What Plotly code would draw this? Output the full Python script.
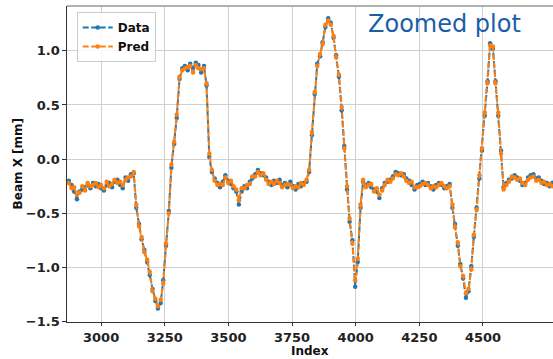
import plotly.graph_objects as go

x_start = 2873
x_step = 10.61

data_vals = [
    -0.20, -0.24, -0.30, -0.37, -0.30, -0.28, -0.26, -0.24, -0.27, -0.22,
    -0.25, -0.23, -0.27, -0.29, -0.24, -0.22, -0.26, -0.21, -0.19, -0.24,
    -0.27, -0.17, -0.20, -0.14, -0.13, -0.45, -0.60, -0.74, -0.84, -0.95,
    -1.07, -1.20, -1.31, -1.38, -1.33, -1.12, -0.80, -0.48, -0.08, 0.14,
    0.38, 0.74, 0.84, 0.86, 0.82, 0.88, 0.84, 0.89, 0.87, 0.80,
    0.86, 0.68, 0.02, -0.12, -0.18, -0.22, -0.26, -0.21, -0.15, -0.20,
    -0.23, -0.27, -0.30, -0.42, -0.30, -0.25, -0.27, -0.21, -0.18, -0.14,
    -0.10, -0.13, -0.15, -0.17, -0.21, -0.24, -0.20, -0.22, -0.19, -0.24,
    -0.22, -0.26, -0.21, -0.25, -0.28, -0.23, -0.25, -0.22, -0.21, -0.12,
    0.22, 0.60, 0.88, 0.95, 1.08, 1.22, 1.30, 1.26, 1.12, 0.96,
    0.76, 0.45, 0.12, -0.28, -0.58, -0.75, -1.18, -0.95, -0.45, -0.21,
    -0.24, -0.22, -0.26, -0.28, -0.30, -0.36, -0.27, -0.22, -0.21, -0.19,
    -0.16, -0.12, -0.13, -0.15, -0.14, -0.18, -0.20, -0.24, -0.28, -0.24,
    -0.23, -0.21, -0.24, -0.22, -0.25, -0.28, -0.24, -0.22, -0.24, -0.27,
    -0.25, -0.23, -0.45, -0.60, -0.80, -0.97, -1.10, -1.28, -1.22, -0.99,
    -0.72, -0.45, -0.18, 0.08, 0.40, 0.72, 1.07, 1.02, 0.72, 0.40,
    0.08, -0.26, -0.22, -0.19, -0.18, -0.15, -0.17, -0.20, -0.24, -0.22,
    -0.17, -0.15, -0.14, -0.18, -0.17, -0.20, -0.23, -0.22, -0.25, -0.22,
    -0.20,
]

pred_vals = [
    -0.22, -0.27, -0.26, -0.33, -0.31, -0.25, -0.29, -0.22, -0.25, -0.24,
    -0.22, -0.26, -0.24, -0.27, -0.21, -0.25, -0.23, -0.19, -0.22, -0.21,
    -0.24, -0.19, -0.17, -0.16, -0.12, -0.42, -0.62, -0.72, -0.86, -0.93,
    -1.04, -1.22, -1.29, -1.36, -1.30, -1.15, -0.78, -0.50, -0.05, 0.16,
    0.41, 0.76, 0.82, 0.84, 0.85, 0.86, 0.80, 0.87, 0.84, 0.83,
    0.84, 0.70, 0.05, -0.10, -0.20, -0.24, -0.23, -0.24, -0.17, -0.22,
    -0.20, -0.25, -0.28, -0.38, -0.27, -0.27, -0.24, -0.23, -0.16, -0.16,
    -0.12, -0.15, -0.13, -0.19, -0.23, -0.21, -0.23, -0.20, -0.22, -0.26,
    -0.24, -0.23, -0.24, -0.27, -0.25, -0.26, -0.22, -0.24, -0.19, -0.10,
    0.25, 0.62, 0.86, 0.97, 1.06, 1.24, 1.28, 1.24, 1.14, 0.94,
    0.78, 0.48, 0.10, -0.25, -0.55, -0.78, -1.12, -0.92, -0.42, -0.19,
    -0.26, -0.24, -0.23, -0.30, -0.27, -0.33, -0.29, -0.24, -0.19, -0.21,
    -0.18, -0.14, -0.15, -0.13, -0.16, -0.20, -0.22, -0.21, -0.26, -0.26,
    -0.25, -0.23, -0.22, -0.24, -0.27, -0.25, -0.26, -0.24, -0.22, -0.25,
    -0.27, -0.25, -0.42, -0.63, -0.77, -0.99, -1.08, -1.24, -1.20, -1.02,
    -0.70, -0.47, -0.15, 0.10, 0.43, 0.70, 1.05, 1.04, 0.70, 0.43,
    0.05, -0.28, -0.24, -0.21, -0.16, -0.17, -0.19, -0.18, -0.22, -0.24,
    -0.19, -0.17, -0.16, -0.20, -0.19, -0.22, -0.21, -0.24, -0.23, -0.25,
    -0.22,
]

index_vals = [round(x_start + x_step * i) for i in range(len(data_vals))]

x_ticks = [3000, 3250, 3500, 3750, 4000, 4250, 4500]
y_ticks = [-1.5, -1.0, -0.5, 0.0, 0.5, 1.0]
y_tick_text = ["\u22121.5", "\u22121.0", "\u22120.5", "0.0", "0.5", "1.0"]

fig = go.Figure()
fig.add_trace(go.Scatter(
    x=index_vals, y=data_vals, name="Data", mode="lines+markers",
    line=dict(color="#1f77b4", width=2, dash="6px,2.5px"),
    marker=dict(size=4.5, color="#1f77b4"),
))
fig.add_trace(go.Scatter(
    x=index_vals, y=pred_vals, name="Pred", mode="lines+markers",
    line=dict(color="#ff7f0e", width=2, dash="6px,2.5px"),
    marker=dict(size=4.5, color="#ff7f0e"),
))

tick_font = dict(family="DejaVu Sans", size=13, color="#222", weight="bold")
title_font = dict(family="DejaVu Sans", size=12, color="#111", weight="bold")

fig.update_layout(
    width=553, height=359,
    margin=dict(l=67, r=0, t=6, b=37),
    paper_bgcolor="white", plot_bgcolor="white",
    showlegend=True,
    legend=dict(
        x=0.02, y=0.981, xanchor="left", yanchor="top",
        bgcolor="rgba(255,255,255,0.85)", bordercolor="#cccccc", borderwidth=1,
        font=dict(family="DejaVu Sans", size=12, color="#111", weight="bold"),
        itemwidth=30, tracegroupgap=0,
    ),
    xaxis=dict(
        range=[2866, 4775], tickvals=x_ticks, ticktext=[str(v) for v in x_ticks],
        showgrid=True, gridcolor="#d0d0d0", gridwidth=1,
        showline=True, linecolor="#333", linewidth=1.3,
        ticks="outside", ticklen=3, tickcolor="#333",
        tickfont=tick_font, zeroline=False,
    ),
    yaxis=dict(
        range=[-1.505, 1.414], tickvals=y_ticks, ticktext=y_tick_text,
        showgrid=True, gridcolor="#d0d0d0", gridwidth=1,
        showline=True, linecolor="#333", linewidth=1.3,
        ticks="outside", ticklen=3.5, tickcolor="#333",
        tickfont=tick_font, zeroline=False,
    ),
    shapes=[dict(type="line", xref="paper", yref="paper", x0=0, x1=1, y0=1, y1=1,
                 line=dict(color="#999999", width=1.5))],
    annotations=[
        dict(text="Zoomed plot", xref="paper", yref="paper", x=0.615, y=0.995,
             xanchor="left", yanchor="top", showarrow=False,
             font=dict(family="DejaVu Sans", size=24, color="#1a5ea8")),
        dict(text="Index", xref="paper", yref="paper", x=0.5, y=-0.092,
             xanchor="center", yanchor="middle", showarrow=False, font=title_font),
        dict(text="Beam X [mm]", xref="paper", yref="paper", x=-0.1, y=0.5,
             xanchor="center", yanchor="middle", textangle=-90, showarrow=False,
             font=title_font),
    ],
)

fig.write_html(
    "out.html",
    config={"displayModeBar": False},
    post_script="document.body.style.margin='0';document.body.style.overflow='hidden';",
)
